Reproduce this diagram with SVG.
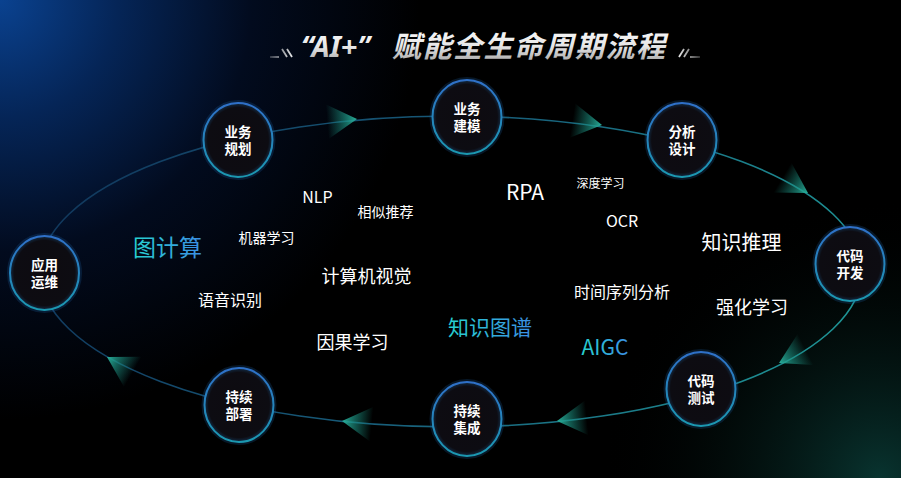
<svg xmlns="http://www.w3.org/2000/svg" width="901" height="478" viewBox="0 0 901 478">
<defs>
<radialGradient id="bgBlue" cx="0" cy="0" r="420" gradientUnits="userSpaceOnUse">
<stop offset="0" stop-color="#0a4290"/>
<stop offset="0.28" stop-color="#052557"/>
<stop offset="0.6" stop-color="#020b1e"/>
<stop offset="1" stop-color="#000000"/>
</radialGradient>
<radialGradient id="bgTeal" cx="880" cy="478" r="280" gradientUnits="userSpaceOnUse">
<stop offset="0" stop-color="#0c4a44" stop-opacity="0.7"/>
<stop offset="0.5" stop-color="#06231f" stop-opacity="0.4"/>
<stop offset="1" stop-color="#000000" stop-opacity="0"/>
</radialGradient>
<linearGradient id="titleGrad" x1="0" y1="0" x2="0" y2="1">
<stop offset="0" stop-color="#ffffff"/>
<stop offset="0.55" stop-color="#e6e6e6"/>
<stop offset="1" stop-color="#9c9c9c"/>
</linearGradient>
<linearGradient id="ringLine" x1="40" y1="116" x2="862" y2="427" gradientUnits="userSpaceOnUse">
<stop offset="0" stop-color="#10345a"/>
<stop offset="0.45" stop-color="#175a78"/>
<stop offset="1" stop-color="#1f9a98"/>
</linearGradient>
<linearGradient id="arrGrad" x1="0" y1="0" x2="1" y2="0">
<stop offset="0" stop-color="#1c8f80" stop-opacity="0"/>
<stop offset="0.55" stop-color="#1d9383" stop-opacity="0.6"/>
<stop offset="1" stop-color="#29b09b" stop-opacity="1"/>
</linearGradient>
<linearGradient id="nodeStroke" x1="0" y1="0" x2="0" y2="1">
<stop offset="0" stop-color="#2f70c8"/>
<stop offset="1" stop-color="#1b98b0"/>
</linearGradient>
<radialGradient id="nodeFill" cx="0.5" cy="0.5" r="0.5">
<stop offset="0" stop-color="#0d0b10"/>
<stop offset="0.88" stop-color="#0d0c12"/>
<stop offset="1" stop-color="#122c46"/>
</radialGradient>
<linearGradient id="cyanText" x1="0" y1="0" x2="1" y2="0">
<stop offset="0" stop-color="#26d2cf"/>
<stop offset="1" stop-color="#3b8ee6"/>
</linearGradient>
<linearGradient id="decoL" x1="0" y1="0" x2="1" y2="0">
<stop offset="0" stop-color="#ffffff" stop-opacity="0.2"/>
<stop offset="1" stop-color="#ffffff" stop-opacity="0.9"/>
</linearGradient>
<linearGradient id="decoR" x1="0" y1="0" x2="1" y2="0">
<stop offset="0" stop-color="#ffffff" stop-opacity="0.9"/>
<stop offset="1" stop-color="#ffffff" stop-opacity="0.2"/>
</linearGradient>
<polygon id="arrow" points="0,0 -30,-17.5 -30,17.5" fill="url(#arrGrad)"/>
<g id="nodeShape">
<ellipse cx="0" cy="0" rx="36" ry="38.5" fill="none" stroke="#1b5a9a" stroke-opacity="0.25" stroke-width="3"/>
<ellipse cx="0" cy="0" rx="34.5" ry="37" fill="url(#nodeFill)" stroke="url(#nodeStroke)" stroke-width="2"/>
</g>
</defs>
<style>
.nt{font-family:"Noto Sans CJK SC","Noto Sans",sans-serif;font-size:13.5px;font-weight:bold;fill:#ffffff;text-anchor:middle}
.lb{font-family:"Noto Sans CJK SC","Noto Sans",sans-serif;fill:#ffffff;text-anchor:middle}
.cy{fill:url(#cyanText)}
</style>
<rect x="0" y="0" width="901" height="478" fill="url(#bgBlue)"/>
<rect x="0" y="0" width="901" height="478" fill="url(#bgTeal)"/>

<g id="title">
<path d="M270 57 H279 M282 49 L287 57 M287 49 L292 57" stroke="url(#decoL)" stroke-width="1.8" fill="none"/>
<path d="M679 57 L684 49 M684 57 L689 49 M690 57 H700" stroke="url(#decoR)" stroke-width="1.8" fill="none"/>
<text x="301" y="57" font-family="'Noto Sans','Liberation Sans',sans-serif" font-size="29" font-weight="bold" font-style="italic" fill="url(#titleGrad)">“AI+”</text>
<text x="392" y="57" font-family="'Noto Sans CJK SC','Noto Sans',sans-serif" font-size="29" font-weight="bold" font-style="italic" letter-spacing="1.5" fill="url(#titleGrad)">赋能全生命周期流程</text>
</g>

<g id="connectors">
<ellipse cx="451" cy="271.5" rx="411" ry="155.5" fill="none" stroke="url(#ringLine)" stroke-width="1.6"/>
<use href="#arrow" transform="translate(357 119) rotate(-5)"/>
<use href="#arrow" transform="translate(602 125) rotate(8.5)"/>
<use href="#arrow" transform="translate(808 193) rotate(31)"/>
<use href="#arrow" transform="translate(779 363) rotate(153)"/>
<use href="#arrow" transform="translate(557 421) rotate(174)"/>
<use href="#arrow" transform="translate(342 421) rotate(186)"/>
<use href="#arrow" transform="translate(107 357) rotate(210)"/>
</g>

<g id="node-yewuguihua" transform="translate(238 140)">
<use href="#nodeShape"/>
<text class="nt"><tspan x="0" y="-3">业务</tspan><tspan x="0" y="14">规划</tspan></text>
</g>
<g id="node-yewujianmo" transform="translate(467 117)">
<use href="#nodeShape"/>
<text class="nt"><tspan x="0" y="-3">业务</tspan><tspan x="0" y="14">建模</tspan></text>
</g>
<g id="node-fenxisheji" transform="translate(682 140)">
<use href="#nodeShape"/>
<text class="nt"><tspan x="0" y="-3">分析</tspan><tspan x="0" y="14">设计</tspan></text>
</g>
<g id="node-daimakaifa" transform="translate(850 264)">
<use href="#nodeShape"/>
<text class="nt"><tspan x="0" y="-3">代码</tspan><tspan x="0" y="14">开发</tspan></text>
</g>
<g id="node-daimaceshi" transform="translate(701 389)">
<use href="#nodeShape"/>
<text class="nt"><tspan x="0" y="-3">代码</tspan><tspan x="0" y="14">测试</tspan></text>
</g>
<g id="node-chixujicheng" transform="translate(467 419)">
<use href="#nodeShape"/>
<text class="nt"><tspan x="0" y="-3">持续</tspan><tspan x="0" y="14">集成</tspan></text>
</g>
<g id="node-chixubushu" transform="translate(239 405)">
<use href="#nodeShape"/>
<text class="nt"><tspan x="0" y="-3">持续</tspan><tspan x="0" y="14">部署</tspan></text>
</g>
<g id="node-yingyongyunwei" transform="translate(44.5 273)">
<use href="#nodeShape"/>
<text class="nt"><tspan x="0" y="-3">应用</tspan><tspan x="0" y="14">运维</tspan></text>
</g>

<g id="labels">
<text class="lb" x="317.5" y="202.5" font-size="16">NLP</text>
<text class="lb" x="385.5" y="217.3" font-size="14">相似推荐</text>
<text class="lb" x="266.5" y="243.3" font-size="14">机器学习</text>
<text class="lb cy" x="167.5" y="255.7" font-size="23">图计算</text>
<text class="lb" x="366.5" y="282.8" font-size="18">计算机视觉</text>
<text class="lb" x="230" y="306" font-size="16">语音识别</text>
<text class="lb" x="352.5" y="348.8" font-size="18">因果学习</text>
<text class="lb" x="525" y="200" font-size="21">RPA</text>
<text class="lb" x="600.5" y="187.6" font-size="12">深度学习</text>
<text class="lb" x="622" y="227.3" font-size="16">OCR</text>
<text class="lb" x="741.5" y="249.6" font-size="20">知识推理</text>
<text class="lb" x="622" y="298" font-size="16">时间序列分析</text>
<text class="lb" x="752" y="313.8" font-size="18">强化学习</text>
<text class="lb cy" x="490" y="335" font-size="21">知识图谱</text>
<text class="lb cy" x="605" y="355" font-size="21">AIGC</text>
</g>
</svg>
